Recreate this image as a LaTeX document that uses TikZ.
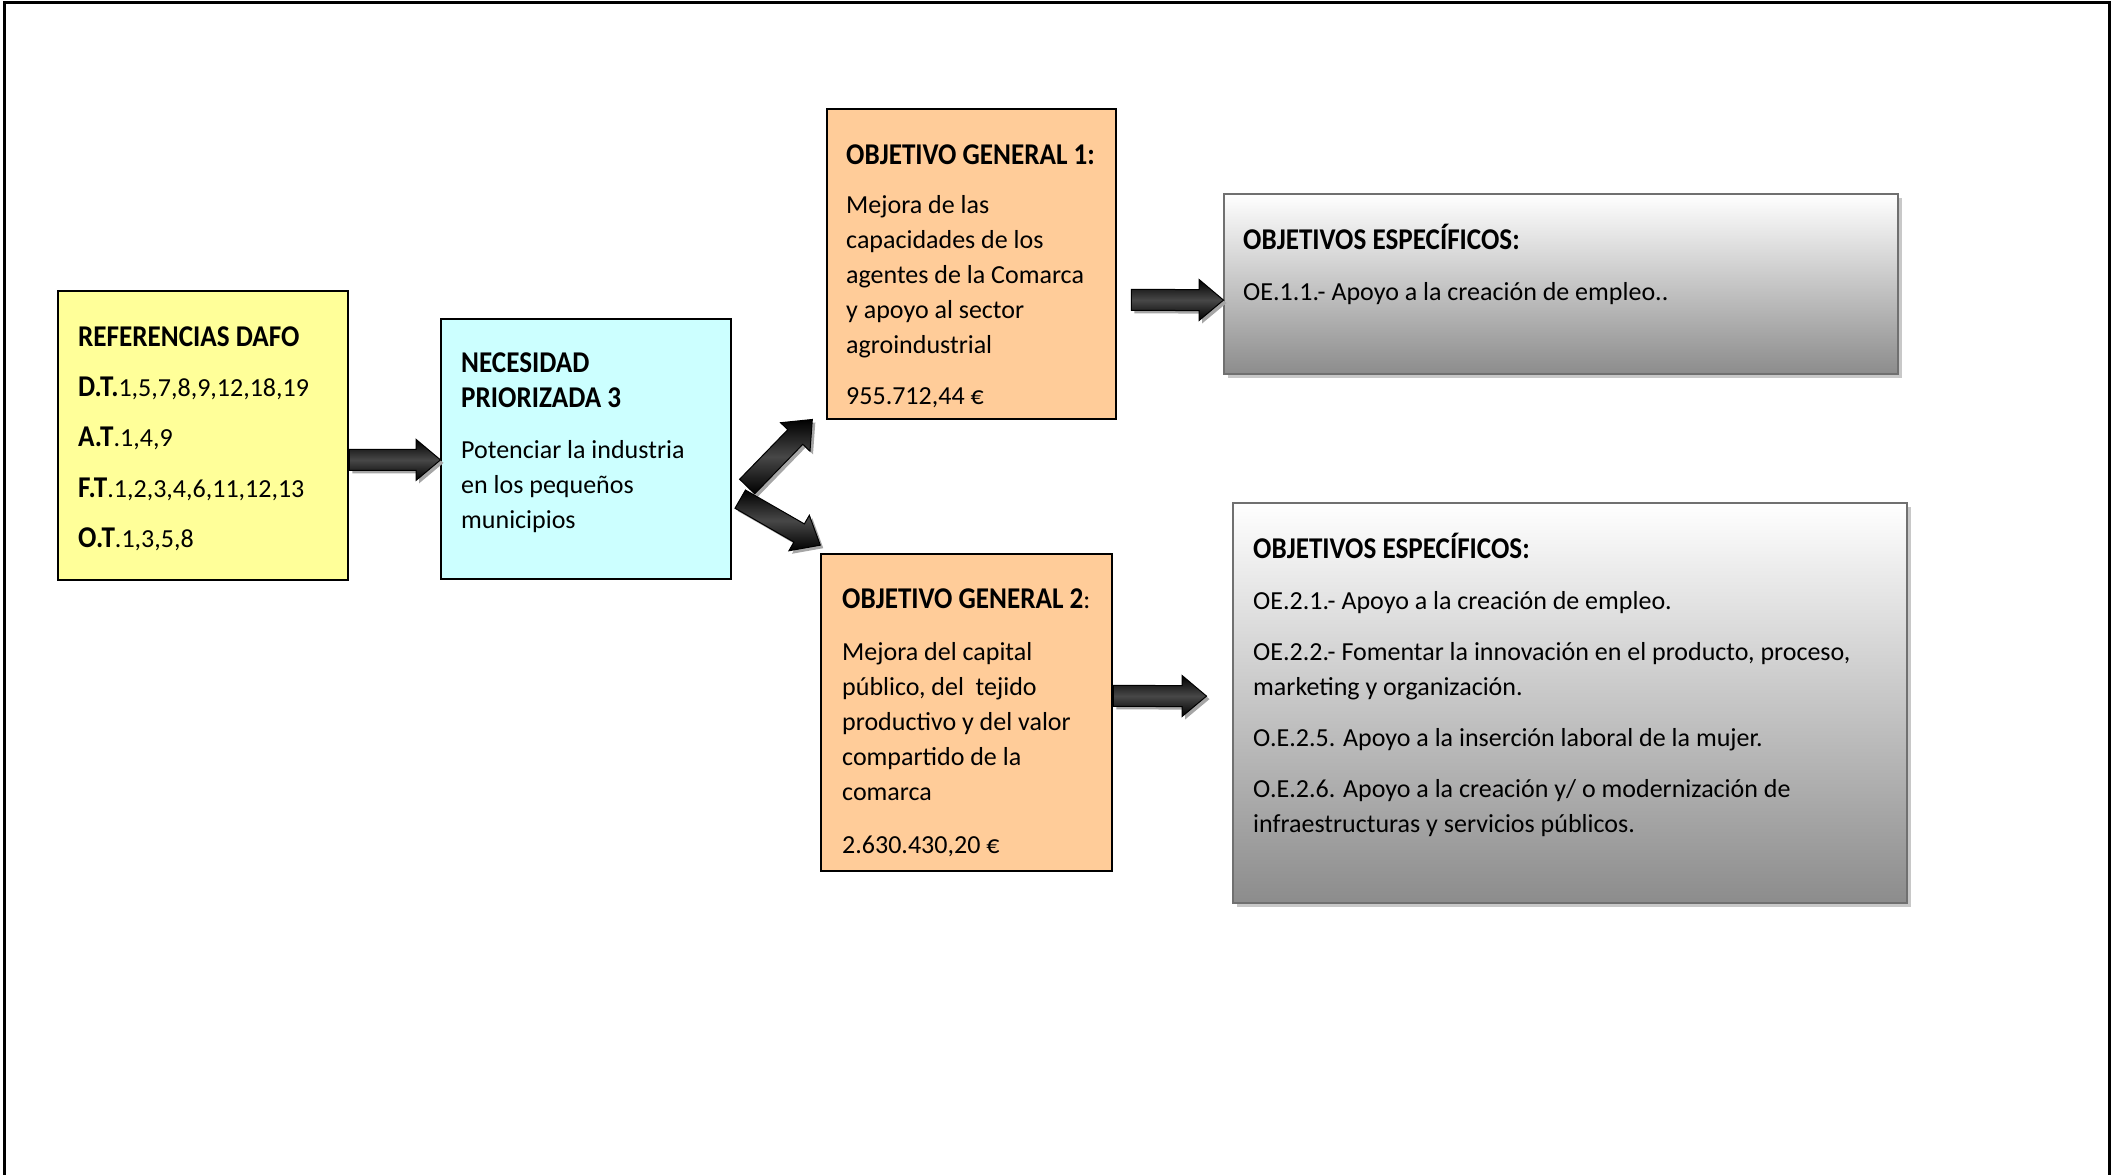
\documentclass[tikz,border=0pt]{standalone}
\usepackage{fontspec}
\setmainfont{Carlito}
\newfontfamily\headfont[FakeStretch=0.9,Scale=1.16]{Carlito Bold}
\usetikzlibrary{calc,shapes.arrows,shadows}
\definecolor{dafoyellow}{HTML}{FFFF99}
\definecolor{needcyan}{HTML}{CCFFFF}
\definecolor{goalorange}{HTML}{FFCC99}
\definecolor{specgrey}{HTML}{8C8C8C}
\definecolor{edgegrey}{HTML}{707070}
\definecolor{shadowgrey}{HTML}{C8C8C8}

\begin{document}
\begin{tikzpicture}[x=1pt, y=-1pt,
  every node/.append style={font=\fontsize{26pt}{35pt}\selectfont},
  box/.style={draw=black, line width=1.8pt, inner sep=0pt, anchor=north west},
  dafobox/.style={box, fill=dafoyellow},
  needbox/.style={box, fill=needcyan},
  goalbox/.style={box, fill=goalorange},
  specbox/.style={draw=edgegrey, line width=2.2pt, inner sep=0pt, anchor=north west,
    top color=white, bottom color=specgrey,
    drop shadow={shadow xshift=4pt, shadow yshift=-4pt, fill=shadowgrey, opacity=1}},
  txt/.style={anchor=base west, align=left, inner sep=0pt},
  bigarrow/.style={single arrow, draw=black, line width=1pt, inner xsep=0pt, inner ysep=10pt,
    minimum width=40pt, single arrow head extend=10pt, single arrow tip angle=80,
    anchor=tail, top color=black, bottom color=black, middle color=black!72,
    drop shadow={shadow xshift=3pt, shadow yshift=-3pt, fill=black!35, opacity=1}}
]
\useasboundingbox (0,0) rectangle (2112,1175);
% page frame, open at the bottom
\draw[line width=3pt] (4.5,1175) |- (2109.5,2) -- (2109.5,1175);

% boxes
\node[dafobox, minimum width=290pt, minimum height=289pt] (dafo) at (57,290) {};
\node[needbox, minimum width=290pt, minimum height=260pt] (need) at (440,318) {};
\node[goalbox, minimum width=289pt, minimum height=310pt] (og1) at (826,108) {};
\node[goalbox, minimum width=291pt, minimum height=317pt] (og2) at (820,553) {};
\node[specbox, minimum width=674pt, minimum height=180pt] (oe1) at (1223,193) {};
\node[specbox, minimum width=674pt, minimum height=400pt] (oe2) at (1232,502) {};

% texts (placed at the baseline of their last line)
\node[txt] (dafo-txt) at (78,547) {{\headfont REFERENCIAS DAFO}\\[15pt]
  {\headfont D.T.}1,5,7,8,9,12,18,19\\[15pt]
  {\headfont A.T}.1,4,9\\[16pt]
  {\headfont F.T}.1,2,3,4,6,11,12,13\\[15pt]
  {\headfont O.T}.1,3,5,8};
\node[txt] (need-txt) at (461,528) {{\headfont NECESIDAD}\\
  {\headfont PRIORIZADA 3}\\[16pt]
  Potenciar la industria\\en los pequeños\\municipios};
\node[txt] (og1-txt) at (846,404) {{\headfont OBJETIVO GENERAL 1:}\\[14pt]
  Mejora de las\\capacidades de los\\agentes de la Comarca\\y apoyo al sector\\agroindustrial\\[16pt]
  955.712,44 €};
\node[txt] (og2-txt) at (842,853) {{\headfont OBJETIVO GENERAL 2}:\\[17pt]
  Mejora del capital\\público, del~ tejido\\productivo y del valor\\compartido de la\\comarca\\[18pt]
  2.630.430,20 €};
\node[txt] (oe1-txt) at (1243,300) {{\headfont OBJETIVOS ESPECÍFICOS:}\\[16pt]
  OE.1.1.- Apoyo a la creación de empleo..};
\node[txt] (oe2-txt) at (1253,832) {{\headfont OBJETIVOS ESPECÍFICOS:}\\[16pt]
  OE.2.1.- Apoyo a la creación de empleo.\\[16pt]
  OE.2.2.- Fomentar la innovación en el producto, proceso,\\marketing y organización.\\[16pt]
  O.E.2.5. Apoyo a la inserción laboral de la mujer.\\[16pt]
  O.E.2.6. Apoyo a la creación y/ o modernización de\\infraestructuras y servicios públicos.};

% arrow ends
\coordinate (t1) at ([yshift=-24.5pt]dafo.east);
\coordinate (h1) at ([yshift=-11pt]need.west);
\coordinate (t2) at ([xshift=15pt,yshift=-38pt]need.east);
\coordinate (h2) at ([xshift=-14pt]og1.south west);
\coordinate (t3) at ([xshift=8pt,yshift=-50pt]need.east);
\coordinate (h3) at ([yshift=8pt]og2.north west);
\coordinate (t4) at ([xshift=14pt,yshift=-36pt]og1.east);
\coordinate (h4) at ([yshift=-16pt]oe1.west);
\coordinate (t5) at ([yshift=16.5pt]og2.east);
\coordinate (h5) at ([xshift=-26pt,yshift=7pt]oe2.west);

% block arrows
\foreach \from/\to in {t1/h1, t2/h2, t3/h3, t4/h4, t5/h5}
  \path let \p1=($(\to)-(\from)$) in
    node[bigarrow, minimum height={veclen(\x1,\y1)}, rotate={atan2(\y1,\x1)}] (arr-\from) at (\from) {};
\end{tikzpicture}
\end{document}
